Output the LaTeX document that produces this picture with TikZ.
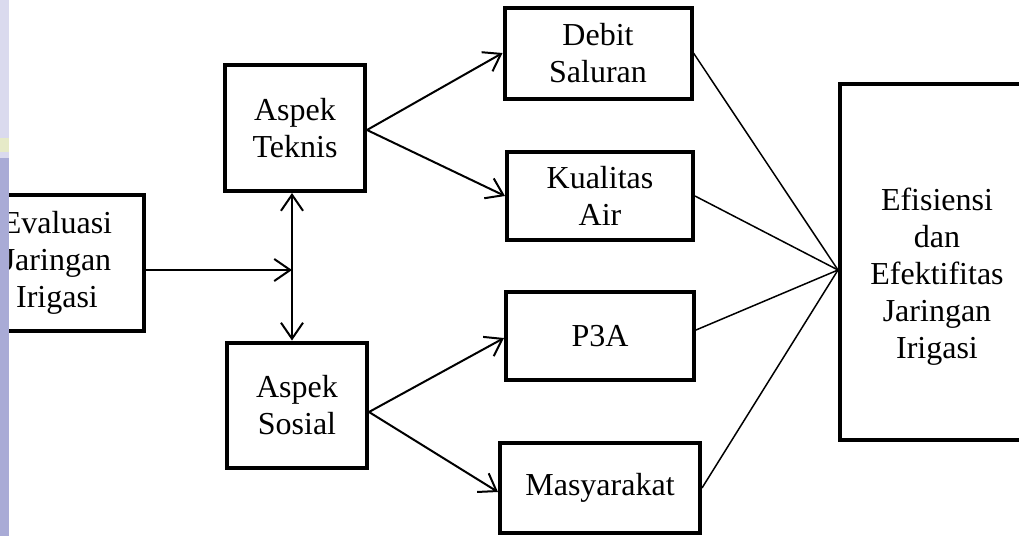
\documentclass[tikz,border=0pt]{standalone}
\usepackage{fontspec}
\setmainfont{Liberation Serif}
\usetikzlibrary{arrows.meta, positioning}
\definecolor{stripTop}{RGB}{218,218,238}
\definecolor{stripBand}{RGB}{230,234,200}
\definecolor{stripLow}{RGB}{169,171,214}

\begin{document}
\begin{tikzpicture}[x=0.5pt, y=-0.5pt,
    >={Straight Barb[length=8pt, width=11pt]},
    box/.style={draw, line width=2pt, align=center, inner sep=0pt,
                font=\fontsize{16}{18.5}\selectfont},
    arr/.style={->, line width=1pt},
    link/.style={line width=0.75pt}]
   \useasboundingbox (0,0) rectangle (1019,536);

   \node[box, minimum width=86.5pt, minimum height=68pt] (eval) at (57,263) {Evaluasi\\Jaringan\\Irigasi};
   \node[box, minimum width=70pt, minimum height=63pt] (teknis) at (295,128) {Aspek\\Teknis};
   \node[box, minimum width=70pt, minimum height=62.5pt] (sosial) at (297,405) {Aspek\\Sosial};
   \node[box, minimum width=93.5pt, minimum height=45.5pt] (debit) at (598,53) {Debit\\Saluran};
   \node[box, minimum width=93pt, minimum height=44pt] (kualitas) at (600,196) {Kualitas\\Air};
   \node[box, minimum width=94pt, minimum height=44pt] (p3a) at (600,336) {P3A};
   \node[box, minimum width=100pt, minimum height=45pt] (masy) at (600,488) {Masyarakat};
   \node[box, minimum width=97pt, minimum height=178pt,
         label={[font=\fontsize{16}{18.5}\selectfont, align=center, yshift=-7.5pt]center:Efisiensi\\dan\\Efektifitas\\Jaringan\\Irigasi}] (efek) at (937,262) {};

   \coordinate (mid) at (292,270);
   \coordinate (join) at ([yshift=-4pt]efek.west);

   % evaluasi ke garis tengah
   \draw[arr] (eval.east |- mid) -- (mid);
   \draw[<->, line width=1pt] (teknis.south -| mid) -- (sosial.north -| mid);

   \path[arr]
    ([yshift=-1pt]teknis.east) edge (debit.west)
                               edge (kualitas.west)
    ([yshift=-3.5pt]sosial.east) edge ([yshift=-1pt]p3a.west)
                                 edge ([yshift=-2pt]masy.west);

   \path[link]
    (debit.east) edge (join)
    (kualitas.east) edge (join)
    ([yshift=3pt]p3a.east) edge (join)
    (masy.east) edge (join);

   % latar kiri
   \fill[stripTop] (0,0) rectangle (8.5,138);
   \fill[stripBand] (0,138) rectangle (8.5,152);
   \fill[stripTop] (0,152) rectangle (8.5,158);
   \fill[stripLow] (0,158) rectangle (8.5,536);
\end{tikzpicture}
\end{document}
